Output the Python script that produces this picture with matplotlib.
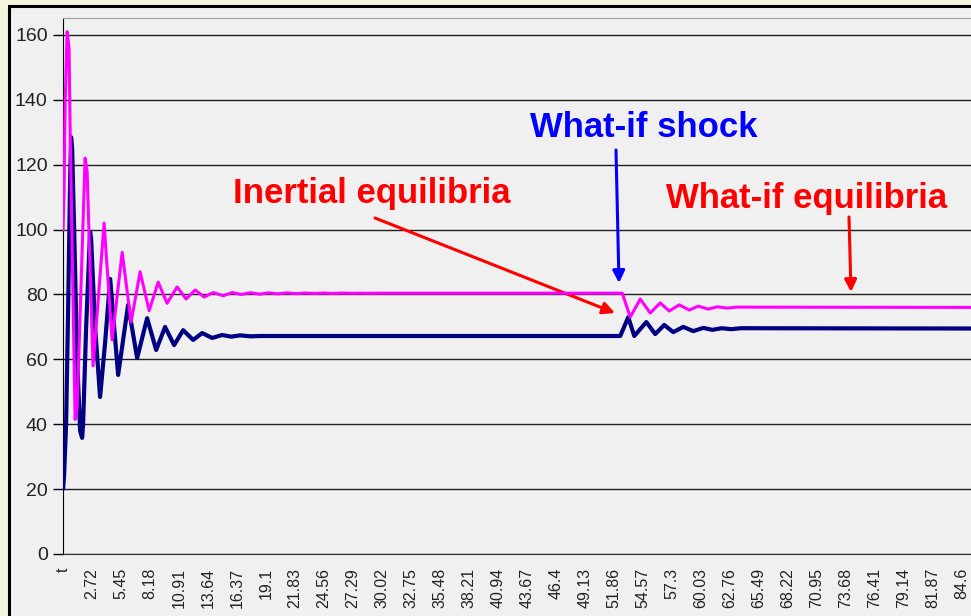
import matplotlib.pyplot as plt
from matplotlib.patches import Rectangle

# magenta series (t, value)
mag_t = [0.00, 0.09, 0.19, 0.38, 0.56, 0.66, 1.13, 1.32, 2.07, 2.26, 2.82, 3.86,
         4.61, 5.56, 6.40, 7.25, 8.10, 8.95, 9.79, 10.73, 11.58, 12.43, 13.28,
         14.12, 15.07, 15.91, 16.77, 17.63, 18.49, 19.35, 20.21, 21.07, 21.93,
         22.79, 23.65, 24.51, 25.37, 26.23, 27.09, 27.95, 28.81, 29.67, 30.5,
         52.45, 52.64, 53.39, 54.33, 55.27, 56.21, 57.06, 58.00, 58.95, 59.79,
         60.73, 61.58, 62.52, 63.40, 88.0]
mag_v = [100, 112, 139, 161, 156, 131, 41.5, 45, 122, 118, 58, 102,
         66, 93, 71.5, 87, 75, 83.8, 77.3, 82.3, 78.6, 81.4, 79.2,
         80.6, 79.6, 80.6, 80.0, 80.55, 80.1, 80.5, 80.2, 80.5, 80.25,
         80.45, 80.3, 80.45, 80.3, 80.45, 80.35, 80.4, 80.35, 80.4, 80.4,
         80.4, 80.4, 73.0, 78.6, 74.3, 77.4, 74.9, 76.8, 75.2, 76.4,
         75.5, 76.2, 75.8, 76.1, 76.0]

# navy series (t, value)
navy_t = [0.00, 0.09, 0.28, 0.47, 0.66, 0.75, 0.85, 1.04, 1.32, 1.60, 1.79, 1.88,
          2.17, 2.54, 2.64, 3.01, 3.48, 3.95, 4.43, 5.18, 6.12, 6.97, 7.91,
          8.76, 9.60, 10.45, 11.30, 12.24, 13.09, 14.03, 14.97, 15.82, 16.67,
          17.61, 18.55, 52.45, 53.20, 53.77, 54.90, 55.74, 56.59, 57.44, 58.38,
          59.33, 60.26, 61.11, 62.00, 62.90, 63.80, 88.0]
navy_v = [20.3, 24, 40, 75, 115, 128.5, 125, 100, 60, 38, 35.8, 40,
          70, 99.3, 97, 70, 48.4, 65, 84.8, 55.2, 76.8, 60.4, 72.7,
          62.9, 70.0, 64.4, 69.0, 66.0, 68.1, 66.6, 67.5, 67.0, 67.4,
          67.1, 67.2, 67.2, 73.0, 67.2, 71.5, 67.8, 70.6, 68.4, 70.0,
          68.7, 69.7, 69.1, 69.6, 69.3, 69.6, 69.5]

xlabels = ["t", "2.72", "5.45", "8.18", "10.91", "13.64", "16.37", "19.1", "21.83",
           "24.56", "27.29", "30.02", "32.75", "35.48", "38.21", "40.94", "43.67",
           "46.4", "49.13", "51.86", "54.57", "57.3", "60.03", "62.76", "65.49",
           "68.22", "70.95", "73.68", "76.41", "79.14", "81.87", "84.6"]
yticks = [0, 20, 40, 60, 80, 100, 120, 140, 160]

W, H = 971, 616
fig = plt.figure(figsize=(W / 100, H / 100), dpi=100, facecolor='#F5F5DC')
fig.patches.append(Rectangle((9 / W, -0.1), 1.2, (H - 5.5) / H + 0.1,
                             transform=fig.transFigure, facecolor='#F0F0F0',
                             edgecolor='black', lw=2.2, zorder=-10))

x0, x1 = -0.01, 88.0
left_px, top_px, bot_px = 63, 18, 554
px_per_t = 29 / 2.73
width_px = (x1 - x0) * px_per_t
ax = fig.add_axes([left_px / W, (H - bot_px) / H, width_px / W, (bot_px - top_px) / H])
ax.set_facecolor('none')

ax.plot(navy_t, navy_v, color='#000080', lw=3.0, zorder=3)
ax.plot(mag_t, mag_v, color='#FF00FF', lw=2.2, zorder=4)

ax.set_xlim(x0, x1)
ax.set_ylim(0, (bot_px - top_px) / 3.244)
ax.set_yticks(yticks)
ax.set_yticklabels([str(v) for v in yticks], fontsize=14, family='Liberation Sans',
                   color='#222222')
xpos = [-0.01] + [2.72 + 2.73 * i for i in range(len(xlabels) - 1)]
ax.set_xticks(xpos)
ax.set_xticklabels(xlabels, rotation=90, fontsize=11.5, family='Liberation Sans',
                   va='top', color='#222222')
ax.tick_params(axis='x', length=0, pad=10)
ax.tick_params(axis='y', length=7, width=1, pad=4, color='black')
ax.grid(axis='y', color='#202020', lw=1, zorder=1)
ax.set_axisbelow(True)
ax.spines['left'].set_color('black')
ax.spines['bottom'].set_color('#303030')
ax.spines['top'].set_color('#A0A0A0')
ax.spines['right'].set_visible(False)


def px(x, y):
    return (x, H - y)


def note(text, x, y, color):
    fig.text(x / W, 1 - y / H, text, color=color, fontsize=25, fontweight='bold',
             family='Liberation Sans', ha='center', va='baseline')


def arrow(x0_, y0_, x1_, y1_, color):
    ax.annotate('', xy=px(x1_, y1_), xytext=px(x0_, y0_),
                xycoords='figure pixels', textcoords='figure pixels',
                arrowprops=dict(arrowstyle='-|>', color=color, lw=2.2,
                                mutation_scale=18, shrinkA=0, shrinkB=0))


note("Inertial equilibria", 372, 203, '#FF0000')
note("What-if shock", 644, 137, '#0000FF')
note("What-if equilibria", 807, 208, '#FF0000')
arrow(375, 218, 615, 313, '#FF0000')
arrow(616, 150, 619, 283, '#0000FF')
arrow(849, 217, 851, 292, '#FF0000')

fig.savefig('out.png', dpi=100, facecolor=fig.get_facecolor())
